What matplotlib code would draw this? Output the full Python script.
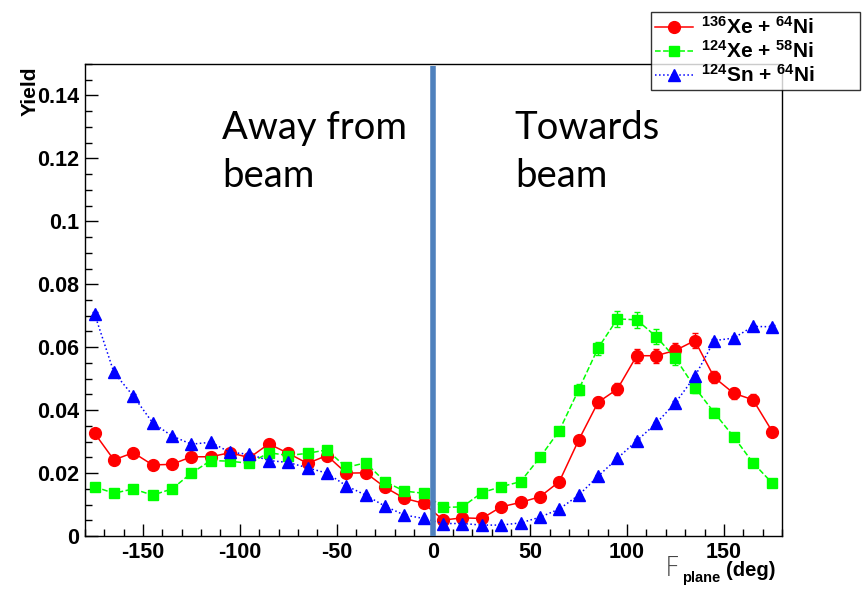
import numpy as np
import matplotlib
matplotlib.use('Agg')
import matplotlib.pyplot as plt
from matplotlib.ticker import MultipleLocator
from matplotlib.lines import Line2D

plt.rcParams['font.family'] = ['Liberation Sans', 'DejaVu Sans']
plt.rcParams['mathtext.fontset'] = 'custom'
plt.rcParams['mathtext.rm'] = 'Liberation Sans:bold'
plt.rcParams['mathtext.bf'] = 'Liberation Sans:bold'
plt.rcParams['mathtext.it'] = 'Liberation Sans:bold'
plt.rcParams['axes.unicode_minus'] = False

# angle bins (deg)
phi = [-175, -165, -155, -145, -135, -125, -115, -105, -95, -85, -75, -65,
       -55, -45, -35, -25, -15, -5, 5, 15, 25, 35, 45, 55, 65, 75, 85, 95,
       105, 115, 125, 135, 145, 155, 165, 175]

xe136_ni64 = [0.0327, 0.0242, 0.0265, 0.0226, 0.0228, 0.0252, 0.0252, 0.0265,
              0.0249, 0.0293, 0.0263, 0.0231, 0.0256, 0.0200, 0.0201, 0.0155,
              0.0120, 0.0104, 0.0051, 0.0058, 0.0056, 0.0093, 0.0107, 0.0125,
              0.0173, 0.0305, 0.0425, 0.0467, 0.0573, 0.0573, 0.0590, 0.0621,
              0.0504, 0.0454, 0.0433, 0.0332]
xe136_err = [0.0012, 0.0010, 0.0010, 0.0010, 0.0010, 0.0010, 0.0010, 0.0010,
             0.0010, 0.0011, 0.0010, 0.0010, 0.0010, 0.0009, 0.0009, 0.0008,
             0.0007, 0.0007, 0.0005, 0.0005, 0.0005, 0.0007, 0.0007, 0.0008,
             0.0009, 0.0013, 0.0017, 0.0018, 0.0022, 0.0022, 0.0022, 0.0023,
             0.0019, 0.0018, 0.0017, 0.0013]

xe124_ni58 = [0.0157, 0.0136, 0.0150, 0.0130, 0.0150, 0.0200, 0.0240, 0.0238,
              0.0231, 0.0265, 0.0256, 0.0263, 0.0274, 0.0218, 0.0233, 0.0173,
              0.0143, 0.0136, 0.0091, 0.0093, 0.0138, 0.0157, 0.0173, 0.0250,
              0.0335, 0.0465, 0.0597, 0.0690, 0.0687, 0.0634, 0.0565, 0.0472,
              0.0392, 0.0316, 0.0233, 0.0168]
xe124_err = [0.0008, 0.0007, 0.0008, 0.0007, 0.0008, 0.0009, 0.0010, 0.0010,
             0.0010, 0.0011, 0.0010, 0.0010, 0.0011, 0.0009, 0.0010, 0.0008,
             0.0007, 0.0007, 0.0006, 0.0006, 0.0007, 0.0008, 0.0008, 0.0011,
             0.0013, 0.0017, 0.0021, 0.0025, 0.0025, 0.0023, 0.0021, 0.0018,
             0.0015, 0.0013, 0.0010, 0.0008]

sn124_ni64 = [0.0706, 0.0520, 0.0445, 0.0360, 0.0318, 0.0292, 0.0298, 0.0266,
              0.0260, 0.0240, 0.0234, 0.0217, 0.0200, 0.0160, 0.0130, 0.0095,
              0.0067, 0.0056, 0.0040, 0.0040, 0.0035, 0.0035, 0.0042, 0.0060,
              0.0086, 0.0130, 0.0190, 0.0247, 0.0303, 0.0358, 0.0424, 0.0507,
              0.0621, 0.0629, 0.0666, 0.0665]
sn124_err = [0.0006, 0.0005, 0.0005, 0.0004, 0.0004, 0.0004, 0.0004, 0.0004,
             0.0004, 0.0004, 0.0004, 0.0004, 0.0004, 0.0003, 0.0003, 0.0003,
             0.0002, 0.0002, 0.0002, 0.0002, 0.0002, 0.0002, 0.0002, 0.0002,
             0.0003, 0.0003, 0.0004, 0.0004, 0.0005, 0.0005, 0.0005, 0.0006,
             0.0006, 0.0006, 0.0006, 0.0006]

labels = [r'$^{136}$Xe + $^{64}$Ni', r'$^{124}$Xe + $^{58}$Ni', r'$^{124}$Sn + $^{64}$Ni']

fig = plt.figure(figsize=(8.66, 5.97), dpi=100)
ax = fig.add_axes([0.098, 0.102, 0.805, 0.791])

styles = [('#ff0000', '-', 'o', 8.5), ('#00ff00', '--', 's', 7.5), ('#0000ff', ':', '^', 8.5)]
series = [(xe136_ni64, xe136_err), (xe124_ni58, xe124_err), (sn124_ni64, sn124_err)]
handles = []
for (y, e), (c, ls, m, ms), lab in zip(series, styles, labels):
    ax.errorbar(phi, y, yerr=e, color=c, ls=ls, lw=1.1, marker=m, ms=ms,
                capsize=2.5, elinewidth=1)
    handles.append(Line2D([], [], color=c, ls=ls, lw=1.1, marker=m, ms=ms, label=lab))

ax.plot([0, 0], [0, 0.1492], color='#4f81bd', lw=4, solid_capstyle='butt', zorder=5)

ax.set_xlim(-180, 180)
ax.set_ylim(0, 0.15)
ax.xaxis.set_major_locator(MultipleLocator(50))
ax.xaxis.set_minor_locator(MultipleLocator(10))
ax.yaxis.set_major_locator(MultipleLocator(0.02))
ax.yaxis.set_minor_locator(MultipleLocator(0.005))
ax.tick_params(which='both', direction='in', top=False, right=False, width=1)
ax.tick_params(which='major', length=9, labelsize=15.5, pad=4)
ax.tick_params(which='minor', length=5)
ax.yaxis.set_major_formatter(plt.FuncFormatter(lambda v, p: '0' if v == 0 else ('%.2f' % v).rstrip('0')))
for lab in ax.get_xticklabels() + ax.get_yticklabels():
    lab.set_fontweight('bold')
for sp in ax.spines.values():
    sp.set_linewidth(1)

ax.text(-109, 0.1355, 'Away from\nbeam', fontsize=27.5, family='Lato',
        va='top', ha='left', linespacing=1.42)
ax.text(42, 0.1355, 'Towards\nbeam', fontsize=27.5, family='Lato',
        va='top', ha='left', linespacing=1.42)

fig.text(0.035, 0.888, 'Yield', rotation=90, ha='center', va='top',
         fontsize=15, fontweight='bold')
fig.text(0.768, 0.035, 'F', fontsize=19, family='DejaVu Sans', fontweight='light',
         color='#444444', ha='left', va='baseline')
fig.text(0.7875, 0.025, 'plane', fontsize=10.5, fontweight='bold', ha='left', va='baseline')
fig.text(0.838, 0.035, '(deg)', fontsize=14.5, fontweight='bold', ha='left', va='baseline')

leg = fig.legend(handles=handles, loc='upper left',
                 bbox_to_anchor=(0.752, 0.853, 0.241, 0.127), mode='expand',
                 fontsize=15, frameon=True, fancybox=False, edgecolor='black',
                 handlelength=1.8, borderpad=0.2, labelspacing=0.1,
                 handletextpad=0.4, borderaxespad=0)
leg.get_frame().set_linewidth(1)
for t in leg.get_texts():
    t.set_fontweight('bold')

fig.savefig('out.png', dpi=100)
